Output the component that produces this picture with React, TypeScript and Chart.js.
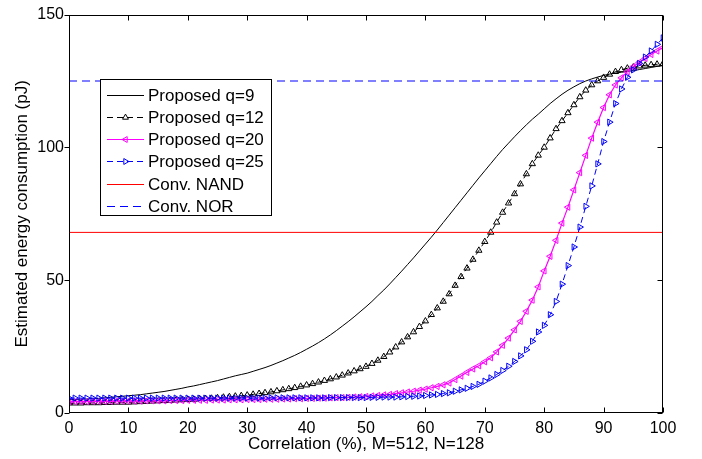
import React, { useEffect, useRef } from 'react';
import { Chart, registerables } from 'chart.js';

Chart.register(...registerables);

const FONT = "'Liberation Sans', Arial, Helvetica, sans-serif";

const correlation = [
  0, 1, 2, 3, 4, 5, 6, 7, 8, 9,
  10, 11, 12, 13, 14, 15, 16, 17, 18, 19,
  20, 21, 22, 23, 24, 25, 26, 27, 28, 29,
  30, 31, 32, 33, 34, 35, 36, 37, 38, 39,
  40, 41, 42, 43, 44, 45, 46, 47, 48, 49,
  50, 51, 52, 53, 54, 55, 56, 57, 58, 59,
  60, 61, 62, 63, 64, 65, 66, 67, 68, 69,
  70, 71, 72, 73, 74, 75, 76, 77, 78, 79,
  80, 81, 82, 83, 84, 85, 86, 87, 88, 89,
  90, 91, 92, 93, 94, 95, 96, 97, 98, 99, 100,
];

const proposedQ9 = [
  5.0, 5.1, 5.2, 5.3, 5.4, 5.5, 5.7, 5.9, 6.1, 6.3,
  6.5, 6.7, 6.9, 7.2, 7.5, 7.8, 8.1, 8.5, 8.9, 9.3,
  9.8, 10.2, 10.7, 11.2, 11.7, 12.2, 12.8, 13.4, 14.0, 14.5,
  15.0, 15.7, 16.4, 17.1, 17.9, 18.8, 19.7, 20.7, 21.7, 22.8,
  24.0, 25.2, 26.5, 27.9, 29.4, 31.0, 32.7, 34.4, 36.2, 38.1,
  40.0, 42.0, 44.2, 46.3, 48.6, 51.0, 53.4, 55.9, 58.4, 61.0,
  63.6, 66.2, 68.9, 71.7, 74.5, 77.3, 80.1, 82.9, 85.7, 88.5,
  91.2, 93.9, 96.6, 99.2, 101.6, 104.0, 106.3, 108.5, 110.6, 112.5,
  114.5, 116.5, 118.3, 120.0, 121.5, 122.8, 124.0, 125.0, 125.8, 126.5,
  127.1, 127.6, 128.0, 128.3, 128.6, 128.9, 129.3, 129.7, 130.1, 130.5, 130.8,
];

const proposedQ12 = [
  3.7, 3.7, 3.7, 3.8, 3.8, 3.8, 3.9, 3.9, 4.0, 4.0,
  4.0, 4.1, 4.2, 4.3, 4.4, 4.5, 4.6, 4.7, 4.8, 4.9,
  5.0, 5.1, 5.3, 5.4, 5.5, 5.7, 5.9, 6.1, 6.3, 6.5,
  6.7, 7.0, 7.3, 7.6, 7.9, 8.3, 8.7, 9.1, 9.5, 10.0,
  10.5, 11.0, 11.6, 12.2, 12.8, 13.5, 14.2, 15.0, 15.8, 16.6,
  17.5, 18.6, 19.8, 21.2, 22.9, 24.8, 26.7, 28.6, 30.5, 32.5,
  34.6, 37.0, 39.5, 42.0, 44.8, 48.0, 51.3, 54.5, 57.8, 61.2,
  64.5, 68.0, 71.8, 75.5, 79.0, 82.5, 86.2, 90.0, 93.8, 97.0,
  100.0, 103.5, 107.0, 110.0, 113.0, 116.0, 119.0, 121.5, 123.5, 125.0,
  126.3, 127.5, 128.5, 129.2, 129.8, 130.2, 130.6, 130.9, 131.1, 131.3, 131.5,
];

const proposedQ20 = [
  4.3, 4.3, 4.3, 4.3, 4.4, 4.4, 4.4, 4.4, 4.5, 4.5,
  4.5, 4.5, 4.5, 4.6, 4.6, 4.6, 4.6, 4.7, 4.7, 4.7,
  4.8, 4.8, 4.8, 4.8, 4.9, 4.9, 4.9, 5.0, 5.0, 5.0,
  5.1, 5.1, 5.1, 5.2, 5.2, 5.2, 5.3, 5.3, 5.4, 5.4,
  5.5, 5.5, 5.6, 5.6, 5.7, 5.8, 5.8, 5.9, 6.0, 6.1,
  6.2, 6.4, 6.6, 6.8, 7.0, 7.3, 7.6, 7.9, 8.2, 8.6,
  9.0, 9.5, 10.0, 10.6, 11.3, 12.6, 13.9, 15.3, 16.6, 17.8,
  19.3, 20.8, 23.0, 25.5, 28.2, 31.3, 34.5, 38.3, 42.5, 47.5,
  53.5, 59.0, 65.0, 71.5, 77.5, 84.0, 90.5, 97.0, 103.5, 109.5,
  115.0, 119.8, 123.5, 126.2, 128.5, 130.4, 132.0, 133.5, 135.0, 136.3, 137.6,
];

const proposedQ25 = [
  5.6, 5.6, 5.6, 5.6, 5.6, 5.6, 5.6, 5.6, 5.6, 5.6,
  5.6, 5.6, 5.6, 5.6, 5.6, 5.6, 5.6, 5.6, 5.6, 5.6,
  5.6, 5.6, 5.6, 5.6, 5.6, 5.6, 5.6, 5.6, 5.6, 5.6,
  5.6, 5.6, 5.6, 5.6, 5.7, 5.7, 5.7, 5.7, 5.7, 5.7,
  5.7, 5.7, 5.7, 5.7, 5.8, 5.8, 5.8, 5.8, 5.8, 5.8,
  5.8, 5.9, 5.9, 6.0, 6.0, 6.0, 6.1, 6.2, 6.3, 6.4,
  6.6, 6.8, 7.0, 7.3, 7.6, 8.2, 8.7, 9.3, 10.0, 10.8,
  12.0, 13.2, 14.5, 16.0, 17.6, 19.4, 21.5, 23.8, 27.0, 30.5,
  33.0, 37.0, 42.0, 48.5, 55.5, 62.5, 70.0, 77.8, 85.5, 93.8,
  102.2, 109.5, 116.5, 122.0, 126.4, 129.2, 131.6, 134.0, 136.3, 138.8, 141.2,
];

const referenceX = [0, 100];
const convNAND = [68, 68];
const convNOR = [125, 125];

const seriesLabels = [
  'Proposed q=9',
  'Proposed q=12',
  'Proposed q=20',
  'Proposed q=25',
  'Conv. NAND',
  'Conv. NOR',
];

const toPoints = (xs: number[], ys: number[]) => xs.map((x, i) => ({ x, y: ys[i] }));

type LegendItem = {
  label: string;
  color: string;
  dash: number[];
  marker: null | 'up' | 'left' | 'right';
};

const legendItems: LegendItem[] = [
  { label: seriesLabels[0], color: '#000000', dash: [], marker: null },
  { label: seriesLabels[1], color: '#000000', dash: [6, 4], marker: 'up' },
  { label: seriesLabels[2], color: '#ff00ff', dash: [], marker: 'left' },
  { label: seriesLabels[3], color: '#0000ff', dash: [6, 4], marker: 'right' },
  { label: seriesLabels[4], color: '#ff0000', dash: [], marker: null },
  { label: seriesLabels[5], color: '#0000ff', dash: [8, 5], marker: null },
];

function drawTriangle(ctx: CanvasRenderingContext2D, x: number, y: number, r: number, dir: string) {
  let rad = dir === 'up' ? 0 : dir === 'right' ? Math.PI / 2 : -Math.PI / 2;
  ctx.beginPath();
  for (let k = 0; k < 3; k++) {
    const px = x + Math.sin(rad) * r;
    const py = y - Math.cos(rad) * r;
    if (k === 0) ctx.moveTo(px, py);
    else ctx.lineTo(px, py);
    rad += (2 * Math.PI) / 3;
  }
  ctx.closePath();
  ctx.stroke();
}

const framePlugin = {
  id: 'matlabFrame',
  afterDatasetsDraw(chart: any) {
    const { ctx, chartArea } = chart;
    const xs = chart.scales.x;
    const ys = chart.scales.y;
    const L = Math.round(chartArea.left) + 0.5;
    const R = Math.round(chartArea.right) - 0.5;
    const T = Math.round(chartArea.top) + 0.5;
    const B = Math.round(chartArea.bottom) - 0.5;
    const tl = 5;
    ctx.save();
    ctx.strokeStyle = '#000000';
    ctx.lineWidth = 1;
    ctx.setLineDash([]);
    ctx.beginPath();
    xs.ticks.forEach((t: any) => {
      const px = Math.round(xs.getPixelForValue(t.value)) + 0.5;
      ctx.moveTo(px, B);
      ctx.lineTo(px, B - tl);
      ctx.moveTo(px, T);
      ctx.lineTo(px, T + tl);
    });
    ys.ticks.forEach((t: any) => {
      const py = Math.round(ys.getPixelForValue(t.value)) + 0.5;
      ctx.moveTo(L, py);
      ctx.lineTo(L - tl, py);
      ctx.moveTo(R, py);
      ctx.lineTo(R - tl, py);
    });
    ctx.stroke();
    ctx.strokeRect(L, T, R - L, B - T);
    ctx.restore();
  },
};

const legendPlugin = {
  id: 'insideLegend',
  afterDraw(chart: any) {
    const { ctx } = chart;
    const x0 = 100.5;
    const y0 = 79.5;
    const w = 171;
    const h = 136;
    const rowH = 22.3;
    const firstRow = 94.5;
    ctx.save();
    ctx.fillStyle = '#ffffff';
    ctx.fillRect(x0, y0, w, h);
    ctx.strokeStyle = '#000000';
    ctx.lineWidth = 1;
    ctx.setLineDash([]);
    ctx.strokeRect(x0, y0, w, h);
    legendItems.forEach((item, i) => {
      const cy = Math.round(firstRow + i * rowH) + 0.5;
      ctx.strokeStyle = item.color;
      ctx.lineWidth = 1;
      ctx.setLineDash(item.dash);
      ctx.beginPath();
      ctx.moveTo(107, cy);
      ctx.lineTo(144, cy);
      ctx.stroke();
      ctx.setLineDash([]);
      if (item.marker) {
        ctx.fillStyle = item.color;
        drawTriangle(ctx, 125.5, cy, 3.4, item.marker);
      }
      ctx.fillStyle = '#000000';
      ctx.font = `17px ${FONT}`;
      ctx.textAlign = 'left';
      ctx.textBaseline = 'middle';
      ctx.fillText(item.label, 148, cy + 1);
    });
    ctx.restore();
  },
};

export default function App() {
  const canvasRef = useRef<HTMLCanvasElement | null>(null);

  useEffect(() => {
    if (!canvasRef.current) return;
    Chart.defaults.font.family = FONT;
    Chart.defaults.color = '#000000';

    const markerCommon = {
      pointRadius: 3.6,
      pointHoverRadius: 3.6,
      pointBorderWidth: 1,
      pointBackgroundColor: 'rgba(0,0,0,0)',
      pointStyle: 'triangle' as const,
    };

    const chart = new Chart(canvasRef.current, {
      type: 'line',
      data: {
        datasets: [
          {
            label: seriesLabels[0],
            data: toPoints(correlation, proposedQ9),
            borderColor: '#000000',
            borderWidth: 1,
            pointRadius: 0,
            tension: 0,
            order: 6,
          },
          {
            label: seriesLabels[1],
            data: toPoints(correlation, proposedQ12),
            borderColor: '#000000',
            borderWidth: 1,
            borderDash: [6, 4],
            pointBorderColor: '#000000',
            pointRotation: 0,
            ...markerCommon,
            order: 5,
          },
          {
            label: seriesLabels[2],
            data: toPoints(correlation, proposedQ20),
            borderColor: '#ff00ff',
            borderWidth: 1.2,
            pointBorderColor: '#ff00ff',
            pointRotation: 270,
            ...markerCommon,
            order: 4,
          },
          {
            label: seriesLabels[3],
            data: toPoints(correlation, proposedQ25),
            borderColor: '#0000ff',
            borderWidth: 1,
            borderDash: [6, 4],
            pointBorderColor: '#0000ff',
            pointRotation: 90,
            ...markerCommon,
            order: 3,
          },
          {
            label: seriesLabels[4],
            data: toPoints(referenceX, convNAND),
            borderColor: '#ff0000',
            borderWidth: 1,
            pointRadius: 0,
            order: 2,
          },
          {
            label: seriesLabels[5],
            data: toPoints(referenceX, convNOR),
            borderColor: '#0000ff',
            borderWidth: 1,
            borderDash: [8, 5],
            pointRadius: 0,
            order: 1,
          },
        ],
      },
      options: {
        responsive: false,
        animation: false,
        devicePixelRatio: 1,
        layout: { padding: { top: 10, right: 39, left: 0, bottom: 0 } },
        plugins: {
          legend: { display: false },
          tooltip: { enabled: false },
        },
        scales: {
          x: {
            type: 'linear',
            min: 0,
            max: 100,
            ticks: {
              stepSize: 10,
              padding: 6,
              color: '#000000',
              font: { size: 16, family: FONT },
              maxRotation: 0,
            },
            grid: { display: false, drawTicks: false },
            border: { display: false },
            title: {
              display: true,
              text: 'Correlation (%), M=512, N=128',
              color: '#000000',
              font: { size: 17, family: FONT },
              padding: { top: 0, bottom: 4 },
            },
            afterFit: (s: any) => {
              s.height = 46;
            },
          },
          y: {
            type: 'linear',
            min: 0,
            max: 150,
            ticks: {
              stepSize: 50,
              padding: 5,
              color: '#000000',
              font: { size: 16, family: FONT },
            },
            grid: { display: false, drawTicks: false },
            border: { display: false },
            title: {
              display: true,
              text: 'Estimated energy consumption (pJ)',
              color: '#000000',
              font: { size: 17, family: FONT },
              padding: { top: 12.5, bottom: 0 },
            },
            afterFit: (s: any) => {
              s.width = 69;
            },
          },
        },
      },
      plugins: [framePlugin, legendPlugin],
    });

    return () => {
      chart.destroy();
    };
  }, []);

  return (
    <div style={{ position: 'fixed', left: 0, top: 0, width: 702, height: 459, background: '#ffffff' }}>
      <canvas ref={canvasRef} width={702} height={459} />
    </div>
  );
}
